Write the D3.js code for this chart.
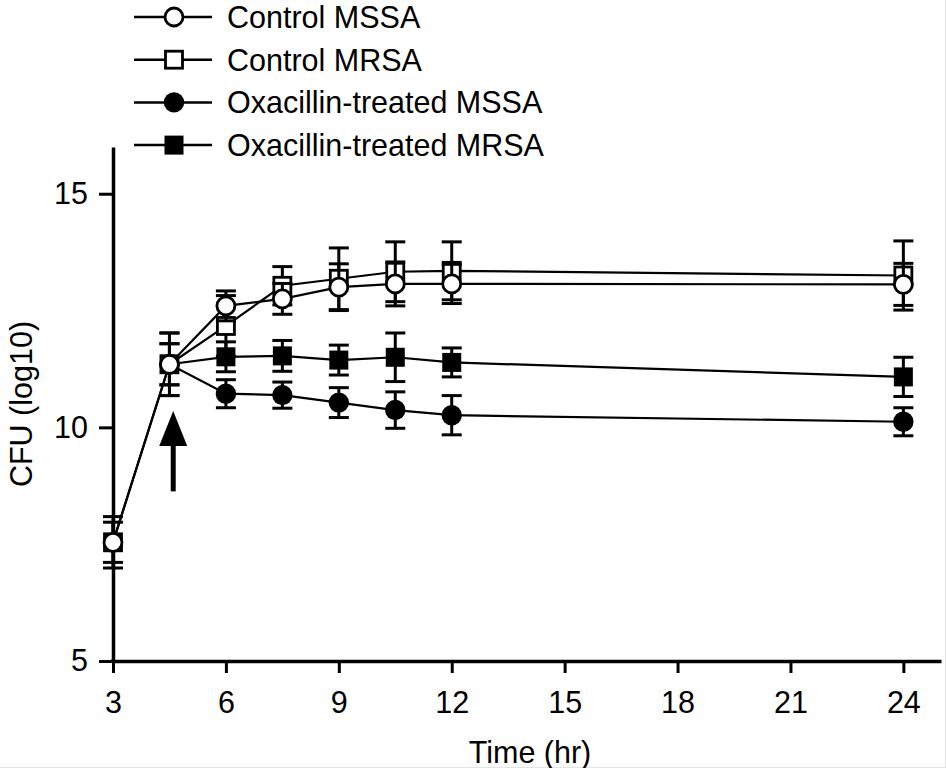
<!DOCTYPE html>
<html><head><meta charset="utf-8">
<script src="https://cdn.jsdelivr.net/npm/d3@7/dist/d3.min.js"></script>
<style>
html,body{margin:0;padding:0;background:#fff;}
svg{display:block;}
text{font-family:"Liberation Sans",Arial,sans-serif;fill:#000;}
</style></head>
<body>
<svg id="chart" width="946" height="768"></svg>
<script>
// ---- data ----
const seriesNames = ["Control MSSA", "Control MRSA", "Oxacillin-treated MSSA", "Oxacillin-treated MRSA"];
const seriesShapes = ["circle", "square", "circle", "square"];
const seriesFilled = [false, false, true, true];

const timesControl = [3, 4.5, 6, 7.5, 9, 10.5, 12, 24];
const timesTreated = [4.5, 6, 7.5, 9, 10.5, 12, 24];

const controlMSSA    = [7.54, 11.35, 12.60, 12.75, 13.00, 13.07, 13.07, 13.06];
const controlMSSAErr = [0.43, 0.44, 0.32, 0.33, 0.50, 0.47, 0.42, 0.45];
const controlMRSA    = [7.54, 11.35, 12.17, 13.03, 13.18, 13.33, 13.35, 13.25];
const controlMRSAErr = [0.55, 0.67, 0.65, 0.41, 0.66, 0.64, 0.62, 0.74];
const treatedMSSA    = [11.35, 10.72, 10.69, 10.53, 10.37, 10.26, 10.12];
const treatedMSSAErr = [0.44, 0.30, 0.28, 0.32, 0.39, 0.42, 0.30];
const treatedMRSA    = [11.35, 11.51, 11.53, 11.44, 11.50, 11.39, 11.08];
const treatedMRSAErr = [0.67, 0.32, 0.33, 0.32, 0.52, 0.31, 0.42];

const xTicks = [3, 6, 9, 12, 15, 18, 21, 24];
const yTicks = [5, 10, 15];
const xDomain = [3, 25];
const yDomain = [5, 16];
const arrowTime = 4.6;
const arrowFrom = 8.63;
const arrowTo = 10.35;

const xLabel = "Time (hr)";
const yLabel = "CFU (log10)";

// ---- build ----
const series = [
  {name: seriesNames[0], t: timesControl, v: controlMSSA, e: controlMSSAErr, shape: seriesShapes[0], filled: seriesFilled[0]},
  {name: seriesNames[1], t: timesControl, v: controlMRSA, e: controlMRSAErr, shape: seriesShapes[1], filled: seriesFilled[1]},
  {name: seriesNames[2], t: timesTreated, v: treatedMSSA, e: treatedMSSAErr, shape: seriesShapes[2], filled: seriesFilled[2]},
  {name: seriesNames[3], t: timesTreated, v: treatedMRSA, e: treatedMRSAErr, shape: seriesShapes[3], filled: seriesFilled[3]}
].map(s => ({...s, pts: s.t.map((t, i) => ({t, v: s.v[i], e: s.e[i]}))}));

const svg = d3.select("#chart");
const x = d3.scaleLinear().domain(xDomain).range([113, 941]);
const y = d3.scaleLinear().domain(yDomain).range([661, 147]);

// faint frame at right/bottom edge
svg.append("line").attr("x1", 945.5).attr("x2", 945.5).attr("y1", 0).attr("y2", 768).attr("stroke", "#e4e4e4").attr("stroke-width", 1);
svg.append("line").attr("x1", 0).attr("x2", 946).attr("y1", 767.5).attr("y2", 767.5).attr("stroke", "#e4e4e4").attr("stroke-width", 1);

// axes
const xAxis = d3.axisBottom(x).tickValues(xTicks).tickSize(12).tickSizeOuter(0).tickPadding(18).tickFormat(d3.format("d"));
const yAxis = d3.axisLeft(y).tickValues(yTicks).tickSize(14).tickSizeOuter(0).tickPadding(11).tickFormat(d3.format("d"));

const gx = svg.append("g").attr("transform", `translate(0,${y(yDomain[0])})`).call(xAxis);
const gy = svg.append("g").attr("transform", `translate(${x(xDomain[0])},0)`).call(yAxis);
[gx, gy].forEach(g => {
  g.selectAll("path.domain").attr("stroke", "#000").attr("stroke-width", 3.5);
  g.selectAll(".tick line").attr("stroke", "#000").attr("stroke-width", 3);
  g.selectAll(".tick text").style("font-size", "30.5px").style("font-family", '"Liberation Sans", Arial, sans-serif').attr("fill", "#000");
});
svg.append("line").attr("x1", x(xDomain[0]) - 1.75).attr("x2", x(xDomain[0]) + 2)
  .attr("y1", y(yDomain[0])).attr("y2", y(yDomain[0])).attr("stroke", "#000").attr("stroke-width", 3.5);

svg.append("text").attr("x", 530).attr("y", 763).attr("text-anchor", "middle").style("font-size", "30.5px").text(xLabel);
svg.append("text").attr("transform", `translate(32,${(y(yDomain[0]) + y(yDomain[1])) / 2}) rotate(-90)`)
  .attr("text-anchor", "middle").style("font-size", "30.5px").text(yLabel);

// arrow annotation
const ax = x(arrowTime);
svg.append("line").attr("x1", ax).attr("x2", ax).attr("y1", y(arrowFrom)).attr("y2", y(arrowTo) + 30)
  .attr("stroke", "#000").attr("stroke-width", 5);
svg.append("path").attr("d", `M${ax},${y(arrowTo)} L${ax - 14},${y(arrowTo) + 35} L${ax + 14},${y(arrowTo) + 35} Z`).attr("fill", "#000");

// lines
const line = d3.line().x(d => x(d.t)).y(d => y(d.v));
svg.append("g").selectAll("path").data(series).join("path")
  .attr("d", s => line(s.pts)).attr("fill", "none").attr("stroke", "#000").attr("stroke-width", 2.2);

function drawMarker(g, shape, filled, cx, cy) {
  if (shape === "circle") {
    g.append("circle").attr("cx", cx).attr("cy", cy).attr("r", filled ? 10.2 : 9)
      .attr("fill", filled ? "#000" : "#fff").attr("stroke", "#000").attr("stroke-width", filled ? 0 : 2.8);
  } else {
    const s = filled ? 19 : 17;
    g.append("rect").attr("x", cx - s / 2).attr("y", cy - s / 2).attr("width", s).attr("height", s)
      .attr("fill", filled ? "#000" : "#fff").attr("stroke", "#000").attr("stroke-width", filled ? 0 : 2.8);
  }
}

// error bars and markers; first series ends up on top
series.slice().reverse().forEach(s => {
  const g = svg.append("g");
  s.pts.forEach(p => {
    const cx = x(p.t), y1 = y(p.v + p.e), y2 = y(p.v - p.e);
    g.append("line").attr("x1", cx).attr("x2", cx).attr("y1", y1).attr("y2", y2).attr("stroke", "#000").attr("stroke-width", 3);
    [y1, y2].forEach(yy => g.append("line").attr("x1", cx - 10).attr("x2", cx + 10).attr("y1", yy).attr("y2", yy)
      .attr("stroke", "#000").attr("stroke-width", 3));
  });
  s.pts.forEach(p => drawMarker(g, s.shape, s.filled, x(p.t), y(p.v)));
});

// legend
const legend = svg.append("g");
series.forEach((s, i) => {
  const cy = 17 + i * 42.7;
  legend.append("line").attr("x1", 134).attr("x2", 212).attr("y1", cy).attr("y2", cy).attr("stroke", "#000").attr("stroke-width", 2.5);
  drawMarker(legend, s.shape, s.filled, 174, cy);
  legend.append("text").attr("x", 227).attr("y", cy + 11).style("font-size", "30.5px").text(s.name);
});
</script>
</body></html>
